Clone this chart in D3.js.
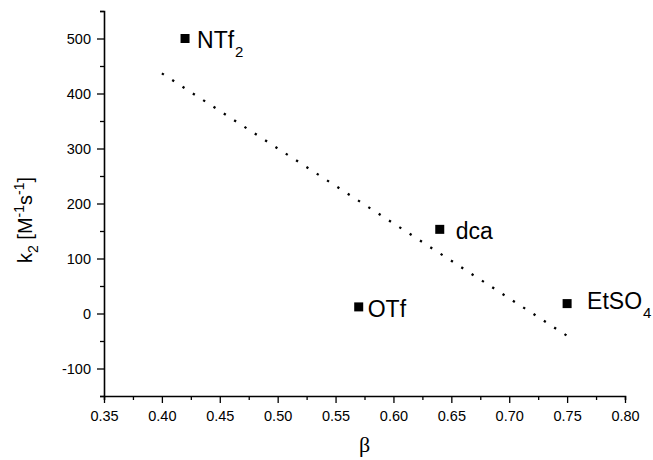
<!DOCTYPE html>
<html>
<head>
<meta charset="utf-8">
<script src="https://cdn.jsdelivr.net/npm/d3@7"></script>
<style>
  html, body { margin: 0; padding: 0; background: #fff; }
  svg { display: block; }
  text { font-family: "Liberation Sans", Arial, sans-serif; fill: #000; }
  .tick text { font-size: 14.5px; font-family: "Liberation Sans", Arial, sans-serif; }
</style>
</head>
<body>
<svg id="chart" width="653" height="460"></svg>
<script>
// Anion labels, solvent basicity (beta) and rate constants k2
const anions = ["NTf", "OTf", "dca", "EtSO"];
const anionSub = ["2", "", "", "4"];
const beta = [0.42, 0.57, 0.64, 0.75];
const k2 = [500, 12, 153, 18];

// Axis ticks
const xTicks = [0.35, 0.40, 0.45, 0.50, 0.55, 0.60, 0.65, 0.70, 0.75, 0.80];
const yTicks = [-100, 0, 100, 200, 300, 400, 500];

// Range of the linear fit line
const fitRange = [0.40, 0.75];

// Label placement relative to each marker (pixels)
const labelOffset = [[12, 9], [9, 10], [16, 10], [20, 5]];

const svg = d3.select("#chart");
const margin = { left: 104, right: 28, top: 11, bottom: 64 };
const W = 653, H = 460;

const x = d3.scaleLinear().domain([0.35, 0.80]).range([margin.left, W - margin.right]);
const y = d3.scaleLinear().domain([-150, 550]).range([H - margin.bottom, margin.top]);

const axisW = 1.6;
const hyphenInt = d => String(Math.round(d));

// minor ticks
const xMinor = d3.range(0.375, 0.80, 0.05);
const yMinor = d3.range(-150, 551, 50).filter(v => v % 100 !== 0);

function styleAxis(g) {
  g.attr("font-size", null).attr("font-family", null);
  g.selectAll("g").attr("font-size", null).attr("font-family", null);
  g.selectAll(".tick line").attr("stroke-width", 1.3);
}

const gx = svg.append("g").attr("transform", `translate(0,${y(-150)})`);
gx.call(d3.axisBottom(x).tickValues(xMinor).tickSize(4).tickFormat(""));
const gxMaj = gx.append("g").call(d3.axisBottom(x).tickValues(xTicks).tickSize(7).tickPadding(8).tickFormat(d3.format(".2f")));
gxMaj.select("path.domain").remove();
gx.select("path.domain").attr("stroke-width", axisW);
styleAxis(gx);

const gy = svg.append("g").attr("transform", `translate(${x(0.35)},0)`);
gy.call(d3.axisLeft(y).tickValues(yMinor).tickSize(4).tickFormat(""));
const gyMaj = gy.append("g").call(d3.axisLeft(y).tickValues(yTicks).tickSize(7).tickPadding(6).tickFormat(hyphenInt));
gyMaj.select("path.domain").remove();
gy.select("path.domain").attr("stroke-width", axisW);
styleAxis(gy);

// least-squares fit of k2 against beta
const mx = d3.mean(beta), my = d3.mean(k2);
let sxy = 0, sxx = 0;
beta.forEach((b, i) => { sxy += (b - mx) * (k2[i] - my); sxx += (b - mx) * (b - mx); });
const slope = sxy / sxx, intercept = my - slope * mx;

svg.append("line")
  .attr("x1", x(fitRange[0])).attr("y1", y(intercept + slope * fitRange[0]))
  .attr("x2", x(fitRange[1])).attr("y2", y(intercept + slope * fitRange[1]))
  .attr("stroke", "#000").attr("stroke-width", 2.3)
  .attr("stroke-dasharray", "2.3 10");

// markers
const sq = 9;
svg.append("g").selectAll("rect").data(beta).join("rect")
  .attr("x", (d) => x(d) - sq / 2)
  .attr("y", (d, i) => y(k2[i]) - sq / 2)
  .attr("width", sq).attr("height", sq)
  .attr("fill", "#000");

// labels with subscripts
const lbl = svg.append("g").selectAll("text").data(anions).join("text")
  .attr("x", (d, i) => x(beta[i]) + labelOffset[i][0])
  .attr("y", (d, i) => y(k2[i]) + labelOffset[i][1])
  .style("font-size", "23px");
lbl.append("tspan").text(d => d);
lbl.append("tspan")
  .attr("dy", 9).attr("dx", 1)
  .style("font-size", "15px")
  .text((d, i) => anionSub[i]);

// x axis title
svg.append("text")
  .attr("x", (x(0.35) + x(0.80)) / 2).attr("y", 452)
  .attr("text-anchor", "middle")
  .style("font-family", "'Liberation Serif', 'Times New Roman', serif")
  .style("font-size", "22px")
  .text("β");

// y axis title: k2 [M-1 s-1]
const yt = svg.append("text")
  .attr("transform", `translate(32,220) rotate(-90)`)
  .attr("text-anchor", "middle")
  .style("font-size", "20px");
yt.append("tspan").text("k");
yt.append("tspan").attr("dy", 6).style("font-size", "14px").text("2");
yt.append("tspan").attr("dy", -6).text(" [M");
yt.append("tspan").attr("dy", -8).style("font-size", "14px").text("-1");
yt.append("tspan").attr("dy", 8).text("s");
yt.append("tspan").attr("dy", -8).style("font-size", "14px").text("-1");
yt.append("tspan").attr("dy", 8).text("]");
</script>
</body>
</html>
